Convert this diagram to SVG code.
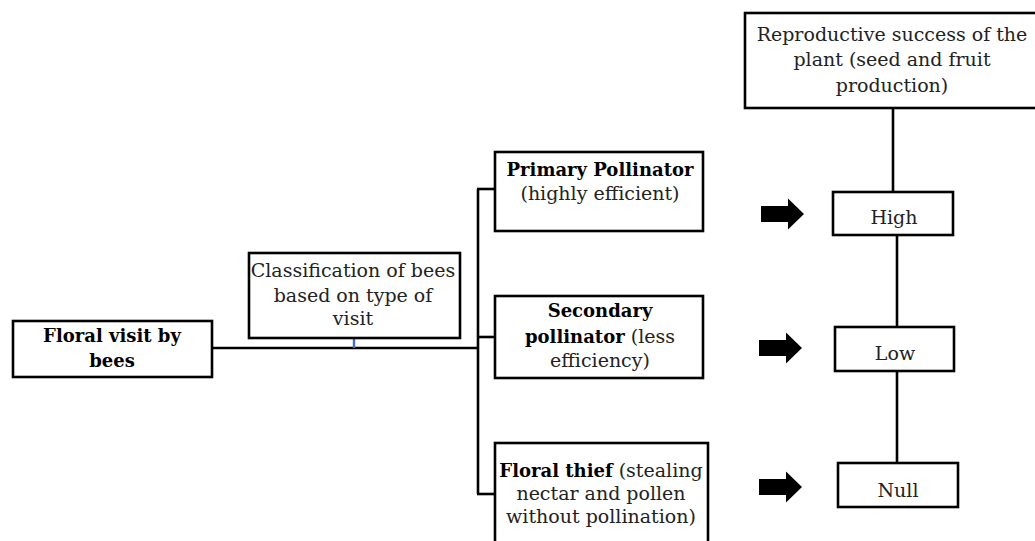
<svg xmlns="http://www.w3.org/2000/svg" width="1035" height="541" viewBox="0 0 1035 541">
<style>
.box{fill:#fff;stroke:#000;stroke-width:2.6}
.ln{stroke:#000;stroke-width:2.6;fill:none}
text{font-family:"DejaVu Serif","Liberation Serif",serif;font-size:19px;fill:#222;text-anchor:middle}
.b{font-weight:bold;fill:#000;font-size:18px}
</style>
<defs>
<path id="arrow" d="M0,-8 H27 V-15.5 L43,0 L27,15.5 V8 H0 Z" fill="#000"/>
</defs>
<rect width="1035" height="541" fill="#fff"/>
<g id="connectors">
<line class="ln" x1="212" y1="348" x2="478" y2="348"/>
<line x1="354" y1="338" x2="354" y2="348" stroke="#4472c4" stroke-width="2.4"/>
<line class="ln" x1="478" y1="189" x2="478" y2="494"/>
<line class="ln" x1="477" y1="189" x2="495" y2="189"/>
<line class="ln" x1="477" y1="337" x2="495" y2="337"/>
<line class="ln" x1="477" y1="494" x2="495" y2="494"/>
<line class="ln" x1="893" y1="108" x2="893" y2="192"/>
<line class="ln" x1="897" y1="235" x2="897" y2="327"/>
<line class="ln" x1="897" y1="371" x2="897" y2="463"/>
<use href="#arrow" x="761" y="214"/>
<use href="#arrow" x="759" y="348"/>
<use href="#arrow" x="759" y="487"/>
</g>
<g id="floral-visit">
<rect class="box" x="13" y="321" width="199" height="56"/>
<text class="b" x="112" y="342">Floral visit by</text>
<text class="b" x="112" y="367">bees</text>
</g>
<g id="classification">
<rect class="box" x="249" y="253" width="211" height="85"/>
<text x="353" y="277">Classification of bees</text>
<text x="353" y="302">based on type of</text>
<text x="353" y="325">visit</text>
</g>
<g id="primary">
<rect class="box" x="495" y="152" width="208" height="79"/>
<text class="b" x="600" y="176">Primary Pollinator</text>
<text x="600" y="200">(highly efficient)</text>
</g>
<g id="secondary">
<rect class="box" x="495" y="296" width="208" height="82"/>
<text class="b" x="600" y="317">Secondary</text>
<text x="600" y="343"><tspan class="b">pollinator</tspan> (less</text>
<text x="600" y="367">efficiency)</text>
</g>
<g id="thief">
<rect class="box" x="495" y="443" width="213" height="110"/>
<text x="601" y="477"><tspan class="b">Floral thief</tspan> (stealing</text>
<text x="601" y="500">nectar and pollen</text>
<text x="601" y="523">without pollination)</text>
</g>
<g id="reproductive">
<rect class="box" x="745" y="13" width="300" height="95"/>
<text x="892" y="41">Reproductive success of the</text>
<text x="892" y="66">plant (seed and fruit</text>
<text x="892" y="92">production)</text>
</g>
<g id="high">
<rect class="box" x="833" y="192" width="120" height="43"/>
<text x="894" y="224">High</text>
</g>
<g id="low">
<rect class="box" x="835" y="327" width="119" height="44"/>
<text x="895" y="360">Low</text>
</g>
<g id="null">
<rect class="box" x="838" y="463" width="120" height="44"/>
<text x="898" y="497">Null</text>
</g>
</svg>
